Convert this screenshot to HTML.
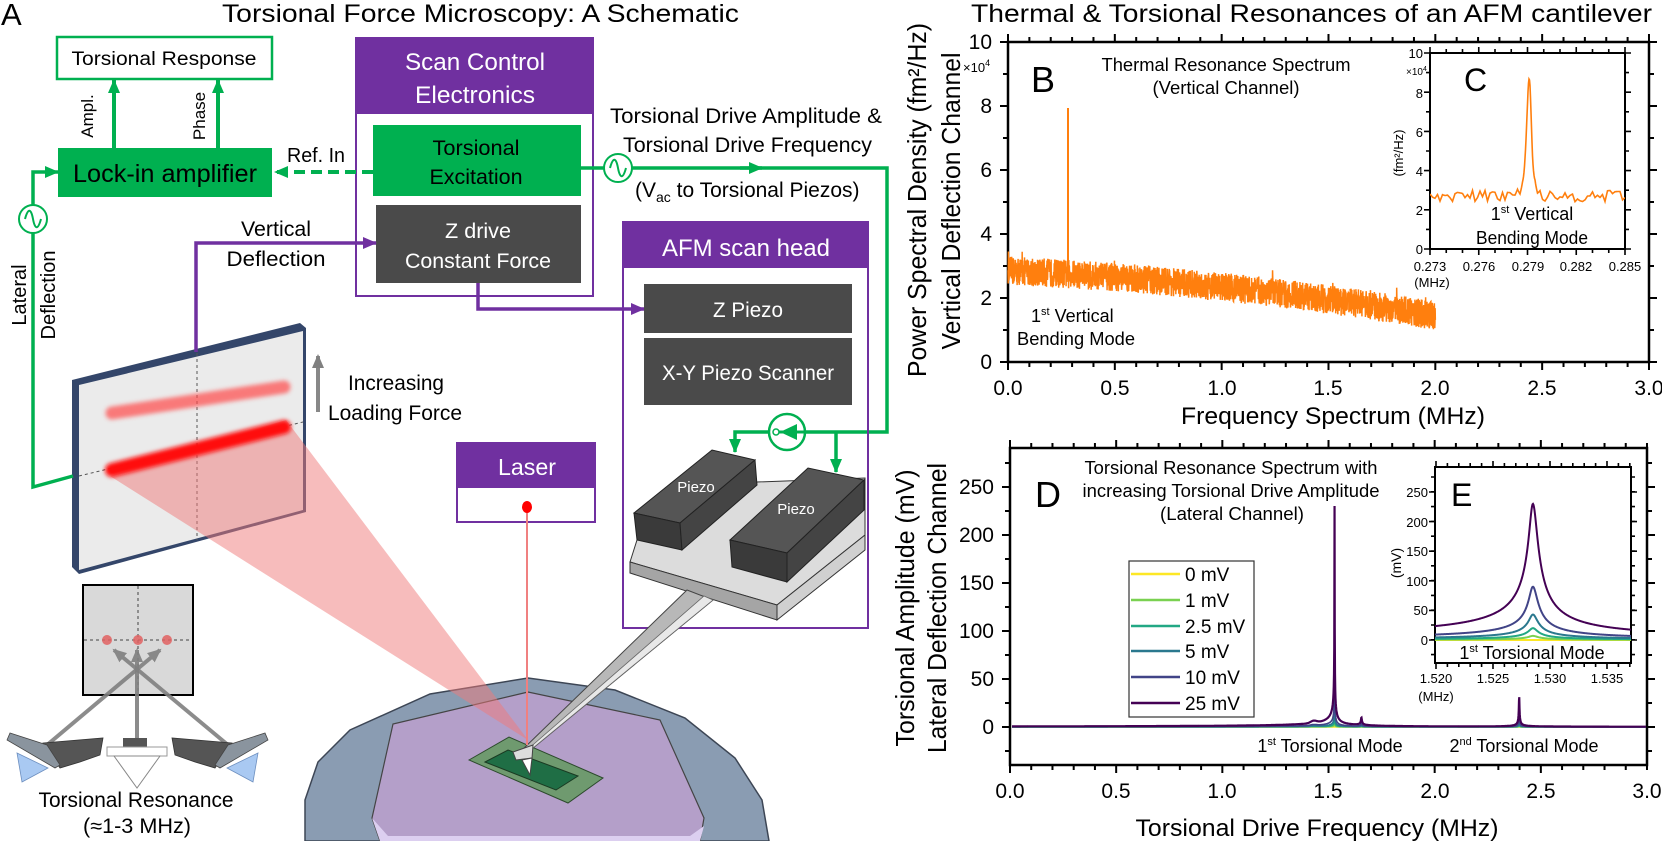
<!DOCTYPE html>
<html><head><meta charset="utf-8"><style>
html,body{margin:0;padding:0;background:#fff;}
svg{display:block;}
text{font-family:"Liberation Sans",sans-serif;}
</style></head><body>
<svg id="s" xmlns="http://www.w3.org/2000/svg" width="1662" height="841" viewBox="0 0 1662 841">
<defs>
<marker id="ag" markerWidth="14" markerHeight="14" refX="13" refY="7" orient="auto" markerUnits="userSpaceOnUse"><path d="M0,1 L14,7 L0,13 z" fill="#00b050"/></marker>
<marker id="ap" markerWidth="14" markerHeight="14" refX="13" refY="7" orient="auto" markerUnits="userSpaceOnUse"><path d="M0,1 L14,7 L0,13 z" fill="#7030a0"/></marker>
<marker id="ay" markerWidth="14" markerHeight="14" refX="12" refY="7" orient="auto" markerUnits="userSpaceOnUse"><path d="M0,1 L14,7 L0,13 z" fill="#808080"/></marker>
<filter id="bl" x="-20%" y="-50%" width="140%" height="200%"><feGaussianBlur stdDeviation="2"/></filter>
<clipPath id="cE"><rect x="1435" y="467" width="196" height="196"/></clipPath>
<clipPath id="cC"><rect x="1430" y="53" width="195" height="196"/></clipPath>
</defs>

<!-- ===== Panel A ===== -->
<text x="1" y="25" font-size="31">A</text>
<text x="222" y="22" font-size="25" textLength="517" lengthAdjust="spacingAndGlyphs">Torsional Force Microscopy: A Schematic</text>

<!-- Stage -->
<polygon points="305,841 305,800 318,762 350,730 430,694 528,678 615,690 685,718 735,758 762,800 769,841" fill="#8a9cb2" stroke="#3d4655" stroke-width="1.5"/>
<polygon points="528,692 393,724 372,818 380,841 700,841 704,818 660,720" fill="#b49fc9" stroke="#444" stroke-width="1.2"/>
<polygon points="372,818 380,841 700,841 704,826 690,836 388,836" fill="#dccff0"/>
<polygon points="469,760 509,737 603,778 568,803" fill="#6f9a6f" stroke="#2c4a2c" stroke-width="1"/>
<polygon points="485,762 508,750 578,776 556,790" fill="#1f6e45" stroke="#1a3a22" stroke-width="1"/>

<!-- Detector panel -->
<polygon points="72,380 300,323 306,328 306,512 79,574 72,567" fill="#34466a"/>
<polygon points="79,385 303,331 303,510 79,570" fill="#ebebeb"/>
<line x1="197" y1="353" x2="197" y2="540" stroke="#555" stroke-width="1" stroke-dasharray="3,3"/>
<line x1="79" y1="476" x2="303" y2="422" stroke="#555" stroke-width="1" stroke-dasharray="3,3"/>

<!-- laser cone -->
<polygon points="110,476 286,420 528,740" fill="#f07a7a" opacity="0.5"/>
<line x1="112" y1="413" x2="284" y2="387" stroke="#ff4a4a" stroke-width="13" stroke-linecap="round" opacity="0.7" filter="url(#bl)"/>
<line x1="112" y1="470" x2="284" y2="427" stroke="#ff1010" stroke-width="14" stroke-linecap="round" filter="url(#bl)"/>

<!-- Increasing arrow -->
<line x1="318" y1="412" x2="318" y2="356" stroke="#888" stroke-width="4" marker-end="url(#ay)"/>
<text x="348" y="390" font-size="21" textLength="96" lengthAdjust="spacingAndGlyphs">Increasing</text>
<text x="328" y="420" font-size="21" textLength="134" lengthAdjust="spacingAndGlyphs">Loading Force</text>

<!-- Torsional Response -->
<rect x="57" y="37" width="215" height="42" fill="#fff" stroke="#00b050" stroke-width="2.5"/>
<text x="164" y="65" font-size="19" text-anchor="middle" textLength="185" lengthAdjust="spacingAndGlyphs">Torsional Response</text>
<rect x="58" y="148" width="214" height="49" fill="#00b050"/>
<text x="73" y="182" font-size="25" textLength="184" lengthAdjust="spacingAndGlyphs">Lock-in amplifier</text>
<line x1="114" y1="148" x2="114" y2="80" stroke="#00b050" stroke-width="4" marker-end="url(#ag)"/>
<line x1="218" y1="148" x2="218" y2="80" stroke="#00b050" stroke-width="4" marker-end="url(#ag)"/>
<text transform="translate(93,116) rotate(-90)" font-size="17" text-anchor="middle">Ampl.</text>
<text transform="translate(205,116) rotate(-90)" font-size="17" text-anchor="middle">Phase</text>

<!-- Scan Control -->
<rect x="356" y="38" width="237" height="258" fill="#fff" stroke="#7030a0" stroke-width="2"/>
<rect x="356" y="38" width="237" height="76" fill="#7030a0"/>
<text x="475" y="70" font-size="24" fill="#fff" text-anchor="middle" textLength="140" lengthAdjust="spacingAndGlyphs">Scan Control</text>
<text x="475" y="103" font-size="24" fill="#fff" text-anchor="middle" textLength="120" lengthAdjust="spacingAndGlyphs">Electronics</text>
<rect x="373" y="125" width="208" height="71" fill="#00b050"/>
<text x="476" y="155" font-size="21" text-anchor="middle" textLength="87" lengthAdjust="spacingAndGlyphs">Torsional</text>
<text x="476" y="184" font-size="21" text-anchor="middle" textLength="93" lengthAdjust="spacingAndGlyphs">Excitation</text>
<rect x="376" y="205" width="205" height="78" fill="#4a4a4a"/>
<text x="478" y="238" font-size="21" fill="#fff" text-anchor="middle" textLength="66" lengthAdjust="spacingAndGlyphs">Z drive</text>
<text x="478" y="268" font-size="21" fill="#fff" text-anchor="middle" textLength="146" lengthAdjust="spacingAndGlyphs">Constant Force</text>

<text x="316" y="162" font-size="20" text-anchor="middle" textLength="58" lengthAdjust="spacingAndGlyphs">Ref. In</text>
<line x1="373" y1="172" x2="275" y2="172" stroke="#00b050" stroke-width="4" stroke-dasharray="11,6" marker-end="url(#ag)"/>

<!-- Lateral -->
<path d="M73,476 L33,487 L33,172 L58,172" fill="none" stroke="#00b050" stroke-width="3.5" marker-end="url(#ag)"/>
<circle cx="33" cy="219" r="14" fill="#fff" stroke="#00b050" stroke-width="2"/>
<path d="M25,219 C28,208 31,208 33,219 S38,230 41,219" fill="none" stroke="#00b050" stroke-width="2"/>
<text transform="translate(26,295) rotate(-90)" font-size="20" text-anchor="middle">Lateral</text>
<text transform="translate(55,295) rotate(-90)" font-size="20" text-anchor="middle">Deflection</text>

<!-- Vertical deflection -->
<text x="276" y="236" font-size="21" text-anchor="middle" textLength="70" lengthAdjust="spacingAndGlyphs">Vertical</text>
<text x="276" y="266" font-size="21" text-anchor="middle" textLength="99" lengthAdjust="spacingAndGlyphs">Deflection</text>
<path d="M196,352 L196,243 L376,243" fill="none" stroke="#7030a0" stroke-width="3.5" marker-end="url(#ap)"/>

<!-- Drive line -->
<path d="M581,168 L887,168 L887,432 L735,432 L735,452" fill="none" stroke="#00b050" stroke-width="3.5" marker-end="url(#ag)"/>
<line x1="740" y1="168" x2="762" y2="168" stroke="#00b050" stroke-width="3.5" marker-end="url(#ag)"/>
<line x1="836" y1="432" x2="836" y2="472" stroke="#00b050" stroke-width="3.5" marker-end="url(#ag)"/>
<circle cx="618" cy="168" r="14" fill="#fff" stroke="#00b050" stroke-width="2"/>
<path d="M610,168 C613,157 616,157 618,168 S623,179 626,168" fill="none" stroke="#00b050" stroke-width="2"/>
<circle cx="787" cy="432" r="18" fill="#fff" stroke="#00b050" stroke-width="2.5"/>
<line x1="775" y1="432" x2="805" y2="432" stroke="#00b050" stroke-width="3"/>
<polygon points="780,432 797,424 797,440" fill="#00b050"/>
<circle cx="776" cy="432" r="3" fill="#fff" stroke="#00b050" stroke-width="1.5"/>
<text x="610" y="123" font-size="21" textLength="272" lengthAdjust="spacingAndGlyphs">Torsional Drive Amplitude &amp;</text>
<text x="623" y="152" font-size="21" textLength="249" lengthAdjust="spacingAndGlyphs">Torsional Drive Frequency</text>
<text x="635" y="197" font-size="21">(V<tspan font-size="14" dy="5">ac</tspan><tspan dy="-5"> to Torsional Piezos)</tspan></text>

<path d="M478,283 L478,309 L644,309" fill="none" stroke="#7030a0" stroke-width="3.5" marker-end="url(#ap)"/>

<!-- AFM scan head -->
<rect x="623" y="222" width="245" height="406" fill="none" stroke="#7030a0" stroke-width="2"/>
<rect x="623" y="222" width="245" height="46" fill="#7030a0"/>
<text x="746" y="256" font-size="24" fill="#fff" text-anchor="middle" textLength="168" lengthAdjust="spacingAndGlyphs">AFM scan head</text>
<rect x="644" y="284" width="208" height="49" fill="#4a4a4a"/>
<text x="748" y="317" font-size="21" fill="#fff" text-anchor="middle" textLength="70" lengthAdjust="spacingAndGlyphs">Z Piezo</text>
<rect x="644" y="338" width="208" height="67" fill="#4a4a4a"/>
<text x="748" y="380" font-size="21" fill="#fff" text-anchor="middle" textLength="172" lengthAdjust="spacingAndGlyphs">X-Y Piezo Scanner</text>

<!-- holder & piezos -->
<polygon points="637,540 757,482 865,478 865,535 777,605 630,562" fill="#dcdcdc" stroke="#333" stroke-width="1"/>
<polygon points="630,562 777,605 777,620 630,573" fill="#a5a5a5" stroke="#333" stroke-width="1"/>
<polygon points="777,605 865,535 865,550 777,620" fill="#d0d0d0" stroke="#333" stroke-width="1"/>
<polygon points="634,513 712,450 755,460 680,523" fill="#555" stroke="#222" stroke-width="1"/>
<polygon points="634,513 680,523 682,550 637,540" fill="#3a3a3a" stroke="#222" stroke-width="1"/>
<polygon points="680,523 755,460 757,485 682,550" fill="#444" stroke="#222" stroke-width="1"/>
<polygon points="730,540 808,468 864,480 787,553" fill="#555" stroke="#222" stroke-width="1"/>
<polygon points="730,540 787,553 787,582 732,567" fill="#3a3a3a" stroke="#222" stroke-width="1"/>
<polygon points="787,553 864,480 864,510 787,582" fill="#444" stroke="#222" stroke-width="1"/>
<text x="696" y="492" font-size="15" fill="#fff" text-anchor="middle">Piezo</text>
<text x="796" y="514" font-size="15" fill="#fff" text-anchor="middle">Piezo</text>
<!-- cantilever -->
<polygon points="687,590 713,600 533,748 520,752" fill="#b8b8b8" stroke="#444" stroke-width="1"/>
<polygon points="704,596 713,600 533,748 527,750" fill="#e8e8e8" stroke="#666" stroke-width="0.8"/>
<polygon points="513,752 533,745 532,758 516,760" fill="#ddd" stroke="#444" stroke-width="1"/>
<polygon points="522,760 532,758 530,775" fill="#fff" stroke="#444" stroke-width="1"/>

<!-- Laser -->
<rect x="457" y="443" width="138" height="79" fill="#fff" stroke="#7030a0" stroke-width="2"/>
<rect x="457" y="443" width="138" height="45" fill="#7030a0"/>
<text x="527" y="475" font-size="23" fill="#fff" text-anchor="middle" textLength="58" lengthAdjust="spacingAndGlyphs">Laser</text>
<line x1="527" y1="507" x2="527" y2="745" stroke="#f08080" stroke-width="2"/>
<ellipse cx="527" cy="507" rx="5" ry="6" fill="#f00"/>

<!-- small detector -->
<rect x="83" y="585" width="110" height="110" fill="#d9d9d9" stroke="#000" stroke-width="2"/>
<line x1="138" y1="586" x2="138" y2="694" stroke="#444" stroke-width="1" stroke-dasharray="3,3"/>
<line x1="84" y1="640" x2="192" y2="640" stroke="#444" stroke-width="1" stroke-dasharray="3,3"/>
<circle cx="107" cy="640" r="5" fill="#e06060" opacity="0.85"/>
<circle cx="138" cy="640" r="5" fill="#e06060" opacity="0.85"/>
<circle cx="167" cy="640" r="5" fill="#e06060" opacity="0.85"/>
<line x1="47" y1="745" x2="160" y2="650" stroke="#808080" stroke-width="4" opacity="0.9" marker-end="url(#ay)"/>
<line x1="228" y1="745" x2="114" y2="650" stroke="#808080" stroke-width="4" opacity="0.9" marker-end="url(#ay)"/>
<line x1="137" y1="742" x2="137" y2="650" stroke="#808080" stroke-width="4" opacity="0.9" marker-end="url(#ay)"/>
<!-- cantilevers -->
<polygon points="43,743 103,738 100,755 80,762 60,768" fill="#555" stroke="#333" stroke-width="0.8"/>
<polygon points="7,740 10,733 47,745 60,765 55,768" fill="#8a949e" stroke="#444" stroke-width="0.8"/>
<polygon points="17,753 48,768 22,782" fill="#a9c9f2" stroke="#6d8fbf" stroke-width="0.8"/>
<polygon points="232,743 172,738 175,755 195,762 215,768" fill="#555" stroke="#333" stroke-width="0.8"/>
<polygon points="268,740 265,733 228,745 215,765 220,768" fill="#8a949e" stroke="#444" stroke-width="0.8"/>
<polygon points="258,753 227,768 253,782" fill="#a9c9f2" stroke="#6d8fbf" stroke-width="0.8"/>
<rect x="123" y="738" width="24" height="9" fill="#555"/>
<rect x="107" y="747" width="60" height="9" fill="#fff" stroke="#999" stroke-width="1"/>
<polygon points="114,756 160,756 137,788" fill="#fff" stroke="#888" stroke-width="1"/>
<text x="136" y="807" font-size="21" text-anchor="middle" textLength="195" lengthAdjust="spacingAndGlyphs">Torsional Resonance</text>
<text x="137" y="833" font-size="21" text-anchor="middle" textLength="108" lengthAdjust="spacingAndGlyphs">(≈1-3 MHz)</text>

<!-- ===== Plot B ===== -->
<text x="971" y="22" font-size="25" textLength="681" lengthAdjust="spacingAndGlyphs">Thermal &amp; Torsional Resonances of an AFM cantilever</text>
<g id="gB"></g>
<text transform="translate(926,200) rotate(-90)" font-size="26" text-anchor="middle" textLength="354" lengthAdjust="spacingAndGlyphs">Power Spectral Density (fm²/Hz)</text>
<text transform="translate(960,201) rotate(-90)" font-size="26" text-anchor="middle" textLength="297" lengthAdjust="spacingAndGlyphs">Vertical Deflection Channel</text>
<g font-size="21" text-anchor="end">
<text x="992" y="49">10</text><text x="992" y="113">8</text><text x="992" y="177">6</text><text x="992" y="241">4</text><text x="992" y="305">2</text><text x="992" y="369">0</text>
</g>
<text x="963" y="72" font-size="13">×10<tspan font-size="9" dy="-6">4</tspan></text>
<g font-size="21" text-anchor="middle">
<text x="1008" y="395">0.0</text><text x="1115" y="395">0.5</text><text x="1222" y="395">1.0</text><text x="1328" y="395">1.5</text><text x="1435" y="395">2.0</text><text x="1542" y="395">2.5</text><text x="1649" y="395">3.0</text>
</g>
<text x="1333" y="424" font-size="24" text-anchor="middle" textLength="304" lengthAdjust="spacingAndGlyphs">Frequency Spectrum (MHz)</text>
<text x="1031" y="92" font-size="36">B</text>
<text x="1226" y="71" font-size="18" text-anchor="middle" textLength="249" lengthAdjust="spacingAndGlyphs">Thermal Resonance Spectrum</text>
<text x="1226" y="94" font-size="18" text-anchor="middle" textLength="147" lengthAdjust="spacingAndGlyphs">(Vertical Channel)</text>
<text x="1031" y="322" font-size="18">1<tspan font-size="11" dy="-7">st</tspan><tspan dy="7"> Vertical</tspan></text>
<text x="1017" y="345" font-size="18" textLength="118" lengthAdjust="spacingAndGlyphs">Bending Mode</text>

<!-- Inset C -->
<rect x="1430" y="53" width="195" height="196" fill="#fff"/>
<g id="gC"></g>
<g font-size="13" text-anchor="end">
<text x="1423" y="58">10</text><text x="1423" y="98">8</text><text x="1423" y="137">6</text><text x="1423" y="176">4</text><text x="1423" y="215">2</text><text x="1423" y="254">0</text>
</g>
<text x="1406" y="75" font-size="10">×10<tspan font-size="7" dy="-4">4</tspan></text>
<text transform="translate(1403,153) rotate(-90)" font-size="13" text-anchor="middle">(fm²/Hz)</text>
<g font-size="13" text-anchor="middle">
<text x="1430" y="271">0.273</text><text x="1479" y="271">0.276</text><text x="1528" y="271">0.279</text><text x="1576" y="271">0.282</text><text x="1625" y="271">0.285</text>
</g>
<text x="1432" y="287" font-size="13" text-anchor="middle">(MHz)</text>
<text x="1464" y="91" font-size="32">C</text>
<text x="1532" y="220" font-size="18" text-anchor="middle">1<tspan font-size="11" dy="-7">st</tspan><tspan dy="7"> Vertical</tspan></text>
<text x="1532" y="244" font-size="18" text-anchor="middle" textLength="112" lengthAdjust="spacingAndGlyphs">Bending Mode</text>

<!-- ===== Plot D ===== -->
<g id="gD"></g>
<text transform="translate(914,608) rotate(-90)" font-size="26" text-anchor="middle" textLength="277" lengthAdjust="spacingAndGlyphs">Torsional Amplitude (mV)</text>
<text transform="translate(946,608) rotate(-90)" font-size="26" text-anchor="middle" textLength="290" lengthAdjust="spacingAndGlyphs">Lateral Deflection Channel</text>
<g font-size="21" text-anchor="end">
<text x="994" y="494">250</text><text x="994" y="542">200</text><text x="994" y="590">150</text><text x="994" y="638">100</text><text x="994" y="686">50</text><text x="994" y="734">0</text>
</g>
<g font-size="21" text-anchor="middle">
<text x="1010" y="798">0.0</text><text x="1116" y="798">0.5</text><text x="1222" y="798">1.0</text><text x="1328" y="798">1.5</text><text x="1435" y="798">2.0</text><text x="1541" y="798">2.5</text><text x="1647" y="798">3.0</text>
</g>
<text x="1317" y="836" font-size="24" text-anchor="middle" textLength="363" lengthAdjust="spacingAndGlyphs">Torsional Drive Frequency (MHz)</text>
<text x="1035" y="507" font-size="36">D</text>
<text x="1231" y="474" font-size="18" text-anchor="middle" textLength="293" lengthAdjust="spacingAndGlyphs">Torsional Resonance Spectrum with</text>
<text x="1231" y="497" font-size="18" text-anchor="middle" textLength="297" lengthAdjust="spacingAndGlyphs">increasing Torsional Drive Amplitude</text>
<text x="1232" y="520" font-size="18" text-anchor="middle" textLength="144" lengthAdjust="spacingAndGlyphs">(Lateral Channel)</text>
<text x="1330" y="752" font-size="18" text-anchor="middle">1<tspan font-size="11" dy="-7">st</tspan><tspan dy="7"> Torsional Mode</tspan></text>
<text x="1524" y="752" font-size="18" text-anchor="middle">2<tspan font-size="11" dy="-7">nd</tspan><tspan dy="7"> Torsional Mode</tspan></text>

<!-- legend -->
<rect x="1129" y="561" width="125" height="156" fill="#fff" stroke="#333" stroke-width="1.2"/>
<g stroke-width="2.5">
<line x1="1131" y1="574" x2="1180" y2="574" stroke="#fde725"/>
<line x1="1131" y1="600" x2="1180" y2="600" stroke="#7ad151"/>
<line x1="1131" y1="626" x2="1180" y2="626" stroke="#22a884"/>
<line x1="1131" y1="651" x2="1180" y2="651" stroke="#2a788e"/>
<line x1="1131" y1="677" x2="1180" y2="677" stroke="#414487"/>
<line x1="1131" y1="703" x2="1180" y2="703" stroke="#440154"/>
</g>
<g font-size="19">
<text x="1185" y="581">0 mV</text><text x="1185" y="607">1 mV</text><text x="1185" y="633">2.5 mV</text><text x="1185" y="658">5 mV</text><text x="1185" y="684">10 mV</text><text x="1185" y="710">25 mV</text>
</g>

<!-- Inset E -->
<rect x="1435" y="467" width="196" height="196" fill="#fff"/>
<g id="gE"></g>
<g font-size="13" text-anchor="end">
<text x="1428" y="497">250</text><text x="1428" y="527">200</text><text x="1428" y="556">150</text><text x="1428" y="586">100</text><text x="1428" y="615">50</text><text x="1428" y="645">0</text>
</g>
<text transform="translate(1401,563) rotate(-90)" font-size="14" text-anchor="middle">(mV)</text>
<g font-size="13" text-anchor="middle">
<text x="1436" y="683">1.520</text><text x="1493" y="683">1.525</text><text x="1550" y="683">1.530</text><text x="1607" y="683">1.535</text>
</g>
<text x="1436" y="701" font-size="13" text-anchor="middle">(MHz)</text>
<text x="1451" y="506" font-size="32">E</text>
<text x="1532" y="659" font-size="18" text-anchor="middle">1<tspan font-size="11" dy="-7">st</tspan><tspan dy="7"> Torsional Mode</tspan></text>
</svg>
<script>
(function(){
const NS='http://www.w3.org/2000/svg';
function el(t,a,p){const e=document.createElementNS(NS,t);for(const k in a)e.setAttribute(k,a[k]);p.appendChild(e);return e;}
let seed=12345;function r(){seed=(seed*16807)%2147483647;return seed/2147483647;}
function axes(g,x0,x1,y0,y1,xmaj,xmin,ymaj,ymin,L,l,w){
  let d='';
  xmaj.forEach(x=>{d+=`M${x},${y1}v${L}M${x},${y0}v${-L}`;});
  xmin.forEach(x=>{d+=`M${x},${y1}v${l}M${x},${y0}v${-l}`;});
  ymaj.forEach(y=>{d+=`M${x0},${y}h${-L}M${x1},${y}h${L}`;});
  ymin.forEach(y=>{d+=`M${x0},${y}h${-l}M${x1},${y}h${l}`;});
  el('path',{d:d,stroke:'#000','stroke-width':w*0.8,fill:'none'},g);
  el('rect',{x:x0,y:y0,width:x1-x0,height:y1-y0,fill:'none',stroke:'#000','stroke-width':w},g);
}
function rng(a,b,s){const o=[];for(let v=a;v<=b+0.01;v+=s)o.push(v);return o;}
// B
const gB=document.getElementById('gB');
axes(gB,1008,1649,42,362,rng(1008,1649,106.83),rng(1008,1649,21.366),rng(42,362,64),rng(42,362,32),8,5,2.5);
let d='';
for(let i=0;i<=2200;i++){const f=2*i/2200;const x=1008+f*213.67;let v=2.85-0.3*f-0.2*f*f+0.45*(2*r()-1);if(r()<0.01)v+=0.3;if(f<0.005)v+=0.4*r();const y=362-32*v;d+=(i?'L':'M')+x.toFixed(2)+','+y.toFixed(1);}
el('path',{d:d,stroke:'#ff7f0e','stroke-width':1.5,fill:'none'},gB);
el('line',{x1:1068,y1:265,x2:1068,y2:108,stroke:'#ff7f0e','stroke-width':2},gB);
// C
const gC=document.getElementById('gC');
axes(gC,1430,1625,53,249,rng(1430,1625,48.75),rng(1430,1625,16.25),rng(53,249,39.2),rng(53,249,19.6),6,4,2);
d='';let nz=[];for(let i=0;i<80;i++)nz.push(0.3*(2*r()-1));
for(let i=0;i<=390;i++){const x=1430+i*0.5;const k=(x-1430)/2.5;const j=Math.floor(k);const t=k-j;const n=nz[j]*(1-t)+nz[Math.min(j+1,79)]*t;
 let v=2.7+n+5.1*Math.exp(-Math.pow((x-1529)/3.2,2))+0.9*Math.exp(-Math.pow((x-1529)/9,2));
 d+=(i?'L':'M')+x.toFixed(1)+','+(249-19.6*v).toFixed(1);}
el('path',{d:d,stroke:'#ff7f0e','stroke-width':1.6,fill:'none','clip-path':'url(#cC)'},gC);
// D & E
const amps=[[0,'#fde725'],[7,'#7ad151'],[20,'#22a884'],[43,'#2a788e'],[90,'#414487'],[230,'#440154']];
const fc=1.5285;
function resp(A,f){const df=f-fc;const g=df<0?0.00033:0.0004;const p=df<0?0.35:0.42;return A*Math.pow(1+(df/g)*(df/g),-p);}
const gD=document.getElementById('gD');
axes(gD,1010,1647,448,765,rng(1010,1647,106.17),rng(1010,1647,21.233),rng(487,727,48),[463,511,559,607,655,703,751],8,5,2.5);
const pk=1010+fc*212.33;
const xs=[];for(let x=1012;x<=1646;x+=0.25)xs.push(x);xs.push(pk);xs.sort((a,b)=>a-b);
amps.forEach(([A,c])=>{let dd='';let first=true;
 xs.forEach(x=>{const f=(x-1010)/212.33;let v=resp(A,f)+A*0.14*Math.pow(1+Math.pow((f-2.398)/0.0012,2),-0.5)+A*0.035*Math.pow(1+Math.pow((f-1.655)/0.002,2),-0.5)+A*0.01*Math.exp(-Math.pow((f-1.43)/0.02,2));
  dd+=(first?'M':'L')+x.toFixed(2)+','+(727-0.96*v).toFixed(1);first=false;});
 el('path',{d:dd,stroke:c,'stroke-width':A>100?2.2:1.6,fill:'none'},gD);});
const gE=document.getElementById('gE');
axes(gE,1435,1631,467,663,rng(1436,1631,57),rng(1436,1631,11.4),rng(492,640,29.6),rng(477,655,14.8),6,4,2);
amps.forEach(([A,c])=>{let dd='';for(let x=1435;x<=1631;x+=0.5){const f=1.520+(x-1436)/11400;const v=resp(A,f);dd+=(x===1435?'M':'L')+x+','+(640-0.592*v).toFixed(2);}
 el('path',{d:dd,stroke:c,'stroke-width':2,fill:'none','clip-path':'url(#cE)'},gE);});
})();
</script>
</body></html>
